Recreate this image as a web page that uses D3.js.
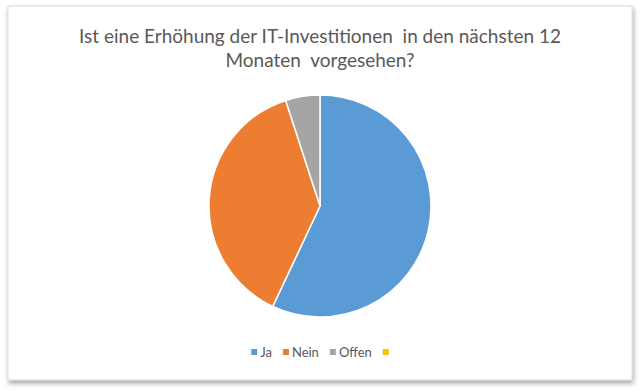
<!DOCTYPE html>
<html>
<head>
<meta charset="utf-8">
<script src="https://cdn.jsdelivr.net/npm/d3@7"></script>
<style>
  body { margin: 0; background: #fff; }
  svg { display: block; }
</style>
</head>
<body>
<svg width="640" height="392"></svg>
<script>
const categories = ['Ja', 'Nein', 'Offen', '']
const values = [57, 38, 5, 0]
const colors = ['#5B9BD5', '#ED7D31', '#A5A5A5', '#FFC000']
const titleLines = ['Ist eine Erhöhung der IT-Investitionen\u00a0 in den nächsten 12', 'Monaten\u00a0 vorgesehen?']

const svg = d3.select('svg')
const width = 640
const height = 392

// card with shadow
const defs = svg.append('defs')
const filter = defs.append('filter').attr('id', 'shadow')
    .attr('x', '-5%').attr('y', '-5%').attr('width', '110%').attr('height', '115%')
filter.append('feDropShadow')
    .attr('dx', 1).attr('dy', 3).attr('stdDeviation', 2.5)
    .attr('flood-color', '#000').attr('flood-opacity', 0.35)

svg.append('rect')
    .attr('x', 8).attr('y', 6)
    .attr('width', 624).attr('height', 374)
    .attr('fill', '#fff')
    .attr('stroke', '#d9d9d9')
    .attr('stroke-width', 1)
    .attr('filter', 'url(#shadow)')

// title
svg.append('g')
    .selectAll('text')
    .data(titleLines)
    .enter()
    .append('text')
    .attr('x', 320)
    .attr('y', (d, i) => 43 + i * 24)
    .attr('text-anchor', 'middle')
    .attr('font-family', 'Lato, "Open Sans", sans-serif')
    .attr('font-size', 19)
    .attr('fill', '#595959')
    .text(d => d)

// pie
const cx = 320, cy = 206, r = 111
const pie = d3.pie().sort(null).value(d => d)
const arc = d3.arc().innerRadius(0).outerRadius(r)

svg.append('g')
    .attr('transform', `translate(${cx}, ${cy})`)
    .selectAll('path')
    .data(pie(values))
    .enter()
    .append('path')
    .attr('d', arc)
    .attr('fill', (d, i) => colors[i])
    .attr('stroke', '#fff')
    .attr('stroke-width', (d) => d.value > 0 ? 1.5 : 0)

// legend
const legend = svg.append('g')
    .attr('font-family', 'Lato, "Open Sans", sans-serif')
    .attr('font-size', 13)
    .attr('fill', '#595959')

const items = legend.selectAll('g')
    .data(categories)
    .enter()
    .append('g')

items.append('rect')
    .attr('width', 6).attr('height', 6)
    .attr('y', -3)
    .attr('fill', (d, i) => colors[i])

items.append('text')
    .attr('x', 9)
    .attr('y', 4.5)
    .text(d => d)

let offset = 0
const positions = []
items.each(function(d) {
    const w = d ? this.querySelector('text').getComputedTextLength() + 9 : 6
    positions.push(offset)
    offset += w + 11
})
offset -= 11
const startX = 320 - offset / 2
items.attr('transform', (d, i) => `translate(${startX + positions[i]}, 352)`)
</script>
</body>
</html>
